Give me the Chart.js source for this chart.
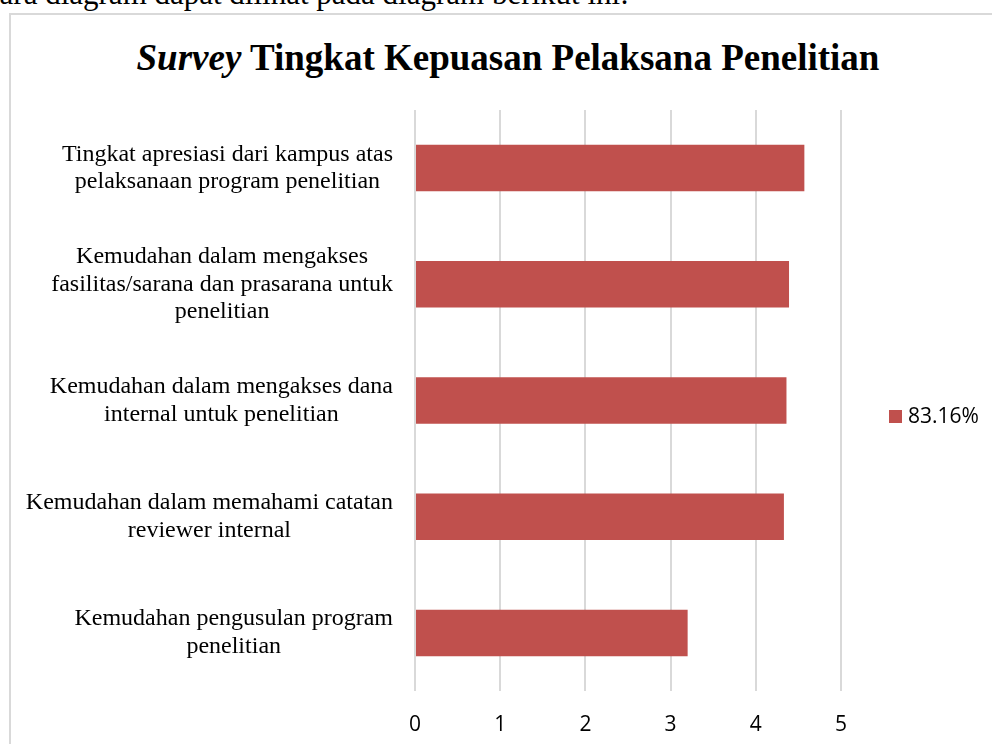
<!DOCTYPE html>
<html>
<head>
<meta charset="utf-8">
<script src="https://cdn.jsdelivr.net/npm/chart.js@4/dist/chart.umd.min.js"></script>
<style>
  html, body { margin: 0; padding: 0; background: #fff; overflow: hidden; }
  body { width: 992px; height: 744px; position: relative; }
  #lead { position: absolute; left: -40px; top: -22px; font: 31px/1 "Liberation Serif", "Times New Roman", serif; color: #000; white-space: nowrap; }
  #frame { position: absolute; left: 9px; top: 13px; width: 1100px; height: 900px; border: 2px solid #d9d9d9; }
  #title { position: absolute; left: 0; width: 1016px; top: 39px; text-align: center; font: bold 37px/1 "Liberation Serif", "Times New Roman", serif; color: #000; white-space: nowrap; }
  #chartCanvas { position: absolute; left: 0; top: 0; }
</style>
</head>
<body>
<div id="lead">secara diagram dapat dilihat pada diagram berikut ini:</div>
<div id="frame"></div>
<div id="title"><i>Survey</i> Tingkat Kepuasan Pelaksana Penelitian</div>
<canvas id="chartCanvas" width="992" height="744"></canvas>
<script>
// ── Data ──
var categories = [
  ['Tingkat apresiasi dari kampus atas', 'pelaksanaan program penelitian'],
  ['Kemudahan dalam mengakses', 'fasilitas/sarana dan prasarana untuk', 'penelitian'],
  ['Kemudahan dalam mengakses dana', 'internal untuk penelitian'],
  ['Kemudahan dalam memahami catatan', 'reviewer internal'],
  ['Kemudahan pengusulan program', 'penelitian']
];
var seriesName = '83.16%';
var seriesValues = [4.57, 4.39, 4.36, 4.33, 3.20];
var xTicks = [0, 1, 2, 3, 4, 5];

var BAR_RED = '#c0504d';
var GRID_GREY = '#d9d9d9';

// ── Category labels: right-aligned block, lines centred inside it ──
var blockLabels = {
  id: 'blockLabels',
  afterDraw: function (chart) {
    var ctx = chart.ctx;
    var yScale = chart.scales.y;
    var rightEdge = chart.chartArea.left - 22;
    var lineH = 27.5;
    ctx.save();
    ctx.font = '24px "Liberation Serif", "Times New Roman", serif';
    ctx.fillStyle = '#000';
    ctx.textAlign = 'center';
    ctx.textBaseline = 'middle';
    chart.data.labels.forEach(function (lines, i) {
      var widest = 0;
      lines.forEach(function (t) { widest = Math.max(widest, ctx.measureText(t).width); });
      var cx = rightEdge - widest / 2;
      var cy = yScale.getPixelForTick(i);
      var y0 = cy - (lines.length - 1) * lineH / 2;
      lines.forEach(function (t, k) { ctx.fillText(t, cx, y0 + k * lineH); });
    });
    ctx.restore();
  }
};

// ── Legend on the right, from the dataset itself ──
var sideLegend = {
  id: 'sideLegend',
  afterDraw: function (chart) {
    var ctx = chart.ctx;
    var ds = chart.data.datasets[0];
    var area = chart.chartArea;
    var x = area.right + 48;
    var y = (area.top + area.bottom) / 2 + 16;
    ctx.save();
    ctx.fillStyle = ds.backgroundColor;
    ctx.fillRect(x, y - 6.5, 13, 13);
    ctx.font = '21px "Open Sans", sans-serif';
    ctx.fillStyle = '#000';
    ctx.textAlign = 'left';
    ctx.textBaseline = 'middle';
    ctx.fillText(ds.label, x + 19, y + 1);
    ctx.restore();
  }
};

new Chart(document.getElementById('chartCanvas').getContext('2d'), {
  type: 'bar',
  data: {
    labels: categories,
    datasets: [{
      label: seriesName,
      data: seriesValues,
      backgroundColor: BAR_RED,
      borderWidth: 0,
      barPercentage: 0.4,
      categoryPercentage: 1
    }]
  },
  options: {
    indexAxis: 'y',
    responsive: false,
    animation: false,
    devicePixelRatio: 1,
    layout: { padding: { left: 415, right: 151, top: 110, bottom: 0 } },
    plugins: {
      legend: { display: false },
      title: { display: false },
      tooltip: { enabled: false }
    },
    scales: {
      x: {
        min: xTicks[0],
        max: xTicks[xTicks.length - 1],
        afterBuildTicks: function (scale) {
          scale.ticks = xTicks.map(function (v) { return { value: v }; });
        },
        // fixed axis band so the plot ends where the reference does
        afterFit: function (scale) { scale.height = 53; },
        grid: { color: GRID_GREY, lineWidth: 2, drawTicks: false },
        border: { display: false },
        ticks: {
          padding: 21.5,
          color: '#000',
          font: { family: '"Open Sans", sans-serif', size: 21 }
        }
      },
      y: {
        grid: { display: false },
        border: { display: false },
        ticks: { display: false },
        afterFit: function (scale) { scale.width = 0; }
      }
    }
  },
  plugins: [blockLabels, sideLegend]
});
</script>
</body>
</html>
